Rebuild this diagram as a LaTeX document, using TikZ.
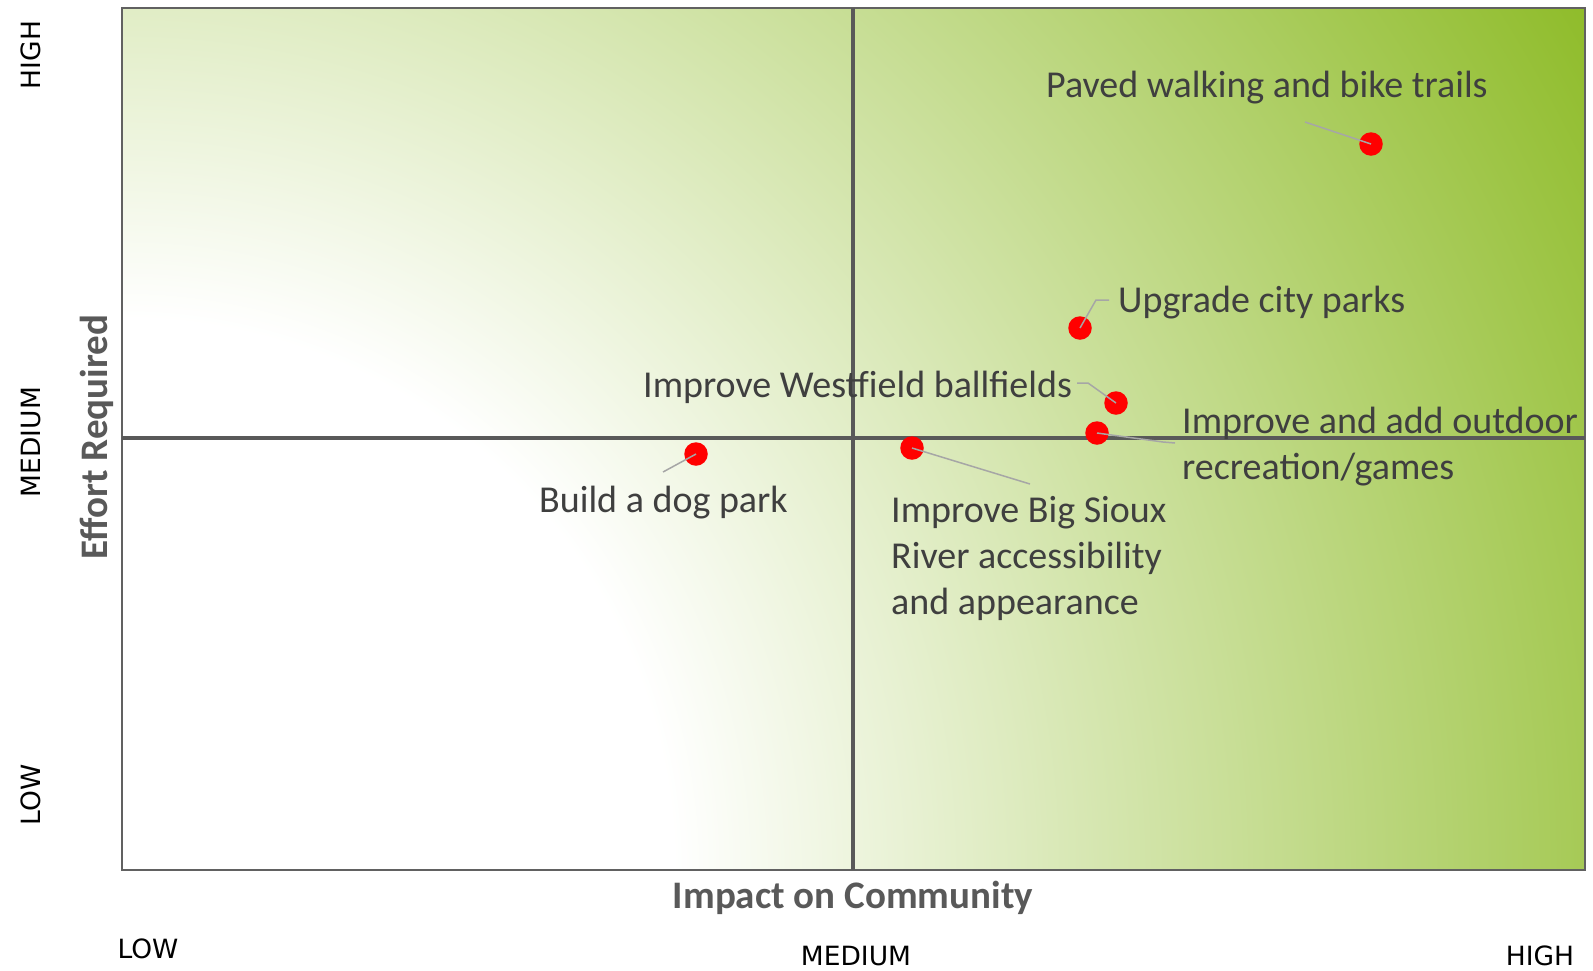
\documentclass[tikz,border=0pt]{standalone}
\usepackage{fontspec}
\setmainfont{Carlito}
\newfontfamily\tickfont{DejaVu Sans}
\definecolor{gEnd}{HTML}{8FBC2A}
\definecolor{lblText}{HTML}{3F3F3F}
\definecolor{axText}{HTML}{595959}
\definecolor{frameGray}{HTML}{616161}
\definecolor{leadGray}{HTML}{A6A6A6}
\pgfdeclareradialshading{quadshade}{\pgfpoint{0bp}{0bp}}{color(0bp)=(white); color(8.1bp)=(white); color(25bp)=(gEnd); color(50bp)=(gEnd)}
\begin{document}
\begin{tikzpicture}[x=1pt,y=-1pt,
  dot/.style={circle, fill=red, inner sep=0pt, minimum size=23.5pt},
  leader/.style={draw=leadGray, line width=1.5pt},
  lbl/.style={text=lblText, inner sep=0pt, font=\fontsize{38}{45}\selectfont},
  axt/.style={text=axText, inner sep=0pt, font=\fontsize{39}{45}\selectfont\bfseries},
  tick/.style={text=black, inner sep=0pt, font=\tickfont\fontsize{26.5}{30}\selectfont},
  midline/.style={draw=axText, line width=4.5pt},
  frame/.style={draw=frameGray, line width=2.4pt}]
\useasboundingbox (0,0) rectangle (1593,970);
% background gradient
\begin{scope}
  \clip (122,8) rectangle (1585,870);
  \shade[shading=quadshade] (122,870) circle[radius=1700pt];
\end{scope}
\draw[frame] (122,8) rectangle (1585,870);
\draw[midline] (853,8) -- (853,870);
\draw[midline] (122,438) -- (1585,438);
% dots
\node[dot] (pPaved) at (1371,144) {};
\node[dot] (pUpgrade) at (1080,328) {};
\node[dot] (pWest) at (1116,403) {};
\node[dot] (pOutdoor) at (1097,433) {};
\node[dot] (pSioux) at (912,448) {};
\node[dot] (pDog) at (696,454) {};
% leader ends
\coordinate (ePaved) at (1305,122);
\coordinate (eUpgradeA) at (1096,300);
\coordinate (eUpgradeB) at (1109,300);
\coordinate (eWestA) at (1088,383);
\coordinate (eWestB) at (1077,383);
\coordinate (eOutdoorA) at (1163,442);
\coordinate (eOutdoorB) at (1175,443);
\coordinate (eSioux) at (1030,484);
\coordinate (eDog) at (663,472);
\draw[leader] (pPaved.center) -- (ePaved);
\draw[leader] (pUpgrade.center) -- (eUpgradeA) -- (eUpgradeB);
\draw[leader] (pWest.center) -- (eWestA) -- (eWestB);
\draw[leader] (pOutdoor.center) -- (eOutdoorA) -- (eOutdoorB);
\draw[leader] (pSioux.center) -- (eSioux);
\draw[leader] (pDog.center) -- (eDog);
% labels
\node[lbl, anchor=base west] (tPaved) at (1046,97) {Paved walking and bike trails};
\node[lbl, anchor=base west] (tUpgrade) at (1118,312) {Upgrade city parks};
\node[lbl, anchor=base west] (tWest) at (643,397) {Improve Westfield ballfields};
\node[lbl, anchor=base west] (tOutdoorA) at (1182,433) {Improve and add outdoor};
\node[lbl, anchor=base west] (tOutdoorB) at (1182,479) {recreation/games};
\node[lbl, anchor=base west] (tSiouxA) at (891,522) {Improve Big Sioux};
\node[lbl, anchor=base west] (tSiouxB) at (891,568) {River accessibility};
\node[lbl, anchor=base west] (tSiouxC) at (891,614) {and appearance};
\node[lbl, anchor=base west] (tDog) at (539,512) {Build a dog park};
% axis titles
\node[axt, anchor=base] (xTitle) at (853,908) {Impact on Community};
\node[axt, anchor=base, rotate=90] (yTitle) at (107,437) {Effort Required};
% tick labels
\node[tick, anchor=base, rotate=90] (yHigh) at (40,55) {HIGH};
\node[tick, anchor=base, rotate=90] (yMed) at (40,442) {MEDIUM};
\node[tick, anchor=base, rotate=90] (yLow) at (40,795) {LOW};
\node[tick, anchor=base] (xLow) at (148,958) {LOW};
\node[tick, anchor=base] (xMed) at (856,965) {MEDIUM};
\node[tick, anchor=base] (xHigh) at (1540,965) {HIGH};
\end{tikzpicture}
\end{document}
